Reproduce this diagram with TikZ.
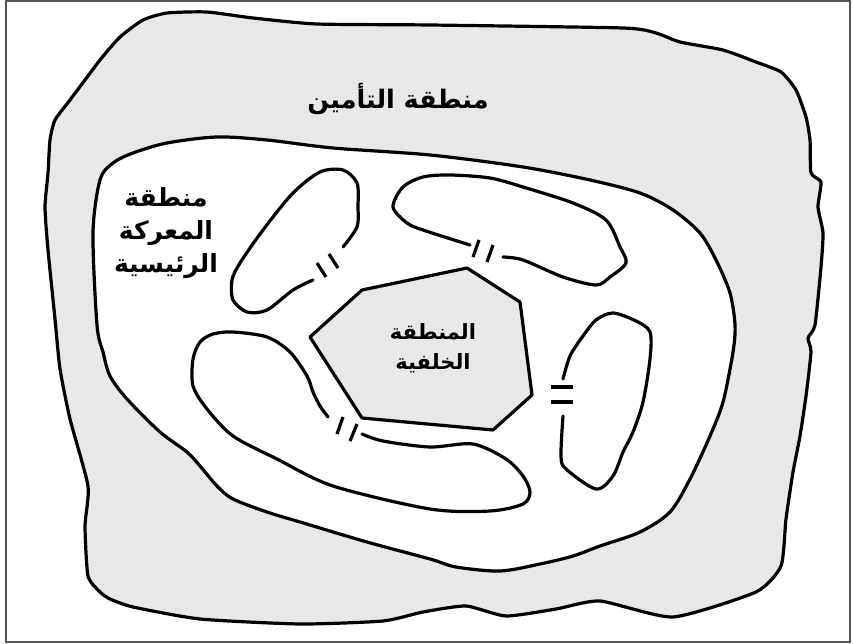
\documentclass[tikz,border=0pt]{standalone}
\usepackage{fontspec}
\newfontfamily\arabicfont[Script=Arabic]{DejaVu Sans}
\TeXXeTstate=1
\definecolor{zonegray}{HTML}{E8E8E8}
\definecolor{framegray}{HTML}{555555}
\tikzset{
  zoneline/.style={line width=3.2pt, line join=round, line cap=round, black},
  breakmark/.style={line width=3.2pt, black},
  biglabel/.style={font=\arabicfont\bfseries\fontsize{25.5}{30}\selectfont, align=center, inner sep=0pt},
  midlabel/.style={font=\arabicfont\bfseries\fontsize{25}{33}\selectfont, align=center, inner sep=0pt},
  smalllabel/.style={font=\arabicfont\bfseries\fontsize{21}{30}\selectfont, align=center, inner sep=0pt}
}
\begin{document}
\begin{tikzpicture}[x=1pt,y=-1pt]
\useasboundingbox (0,0) rectangle (853,644);
\fill[white] (0,0) rectangle (853,644);
\draw[framegray, line width=2pt] (5.5,1.5) rectangle (850,642);
% security zone
\draw[zoneline, fill=zonegray] plot[smooth cycle, tension=0.35] coordinates {
(143,20) (167,13) (207,12) (253,18) (317,24) (430,25) (623,28) (656,33) (680,42) (723,50) (756,62) (781,72) (796,90) (806,117) (810,140) (811,173) (821,182) (818,207) (823,233) (821,267) (815,325) (808,338) (811,352) (806,396) (800,436) (793,472) (786,519) (781,566) (756,592) (673,617) (600,601) (556,609) (506,616) (466,606) (423,612) (383,621) (300,624) (200,619) (133,607) (110,599) (100,592) (88,576) (85,526) (88,486) (70,419) (60,369) (55,319) (48,250) (45,207) (48,173) (50,140) (55,120) (70,100) (100,60) (120,37)};
% main battle zone
\draw[zoneline, fill=white] plot[smooth cycle, tension=0.5] coordinates {
(97,325) (93,233) (100,180) (113,163) (133,153) (167,143) (217,137) (267,140) (333,148) (430,155) (523,167) (590,180) (640,193) (673,210) (700,233) (716,260) (730,293) (735,325) (733,352) (723,402) (710,436) (690,479) (670,512) (640,532) (600,546) (573,556) (540,564) (500,571) (456,567) (430,559) (367,542) (300,522) (267,512) (233,499) (217,486) (200,466) (187,452) (160,432) (127,399) (110,376) (103,352)};
% top-left island
\draw[zoneline] plot[smooth, tension=0.5] coordinates {
(343,247) (357,227) (358,207) (357,183) (343,170) (320,172) (293,193) (263,230) (240,263) (232,280) (233,300) (247,312) (267,310) (293,290) (313,280)};
\draw[breakmark] (317,263) -- (326,277);
\draw[breakmark] (329,254) -- (338,268);
% top-right island
\draw[zoneline] plot[smooth, tension=0.5] coordinates {
(503,257) (523,260) (563,277) (596,285) (610,277) (626,263) (620,247) (606,220) (573,203) (523,187) (490,178) (450,175) (423,177) (403,187) (393,207) (407,223) (423,230) (470,245)};
\draw[breakmark] (473,257) -- (479,240);
\draw[breakmark] (487,262) -- (493,245);
% bottom-left island
\draw[zoneline] plot[smooth, tension=0.5] coordinates {
(328,417) (320,406) (313,392) (307,376) (290,352) (267,337) (233,332) (213,334) (200,342) (193,359) (193,386) (207,409) (233,436) (277,459) (333,486) (430,509) (490,511) (523,504) (530,492) (523,476) (506,459) (473,444) (430,447) (383,441) (362,434)};
\draw[breakmark] (337,434) -- (343,417);
\draw[breakmark] (350,441) -- (357,424);
% right island
\draw[zoneline] plot[smooth, tension=0.5] coordinates {
(563,416) (561,456) (566,469) (596,489) (613,476) (623,452) (633,432) (643,402) (650,359) (650,332) (636,321) (613,313) (596,320) (583,336) (570,356) (563,379)};
\draw[breakmark] (551,387) -- (573,387);
\draw[breakmark] (551,402) -- (573,402);
% rear area
\draw[zoneline, fill=zonegray] (362,290) -- (467,268) -- (520,302) -- (532,395) -- (493,430) -- (362,418) -- (310,337) -- cycle;
% labels
\node[biglabel] (security) at (398,99) {\beginR منطقة التأمين\endR};
\node[midlabel] (battle) at (166,233) {\beginR منطقة\endR\\\beginR المعركة\endR\\\beginR الرئيسية\endR};
\node[smalllabel] (rear) at (433,348) {\beginR المنطقة\endR\\\beginR الخلفية\endR};
\end{tikzpicture}
\end{document}
